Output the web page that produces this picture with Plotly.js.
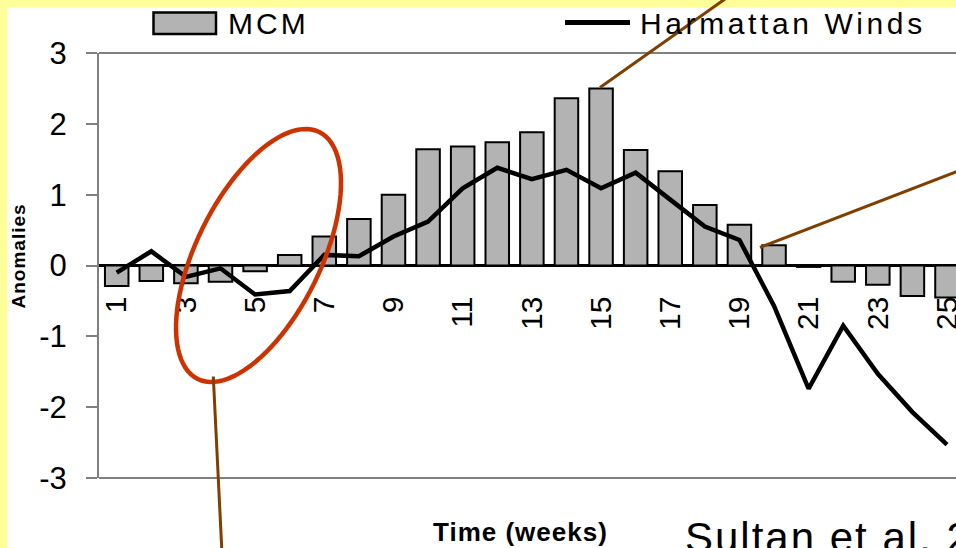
<!DOCTYPE html>
<html><head><meta charset="utf-8">
<script src="https://cdn.plot.ly/plotly-3.0.1.min.js"></script>
<style>
html,body{margin:0;padding:0;background:#fff;overflow:hidden}
#chart{width:956px;height:548px}
</style></head><body><div id="chart"></div><script>
const weeks = [1,2,3,4,5,6,7,8,9,10,11,12,13,14,15,16,17,18,19,20,21,22,23,24,25];
const mcm = [-0.29,-0.22,-0.25,-0.23,-0.08,0.15,0.41,0.655,1.0,1.64,1.68,1.74,1.88,2.36,2.50,1.63,1.33,0.855,0.575,0.285,-0.02,-0.23,-0.27,-0.43,-0.45];
const harmattan = [-0.10,0.20,-0.16,-0.04,-0.41,-0.36,0.15,0.13,0.41,0.62,1.09,1.38,1.22,1.35,1.09,1.31,0.93,0.55,0.36,-0.57,-1.74,-0.85,-1.53,-2.07,-2.53];
const xTickVals = [1,3,5,7,9,11,13,15,17,19,21,23,25];
const xTickText = ['1','3','5','7','9','11','13','15','17','19','21','23','25'];
const yTickVals = [3,2,1,0,-1,-2,-3];
const yTickText = ['3','2','1','0','-1','-2','-3'];
const seriesNames = ['MCM','Harmattan Winds'];
const yTitle = 'Anomalies';
const xTitle = 'Time (weeks)';
const sourceNote = 'Sultan et al. 2005';

const FONT = '"Liberation Sans", Arial, sans-serif';
const L = 99, R = 956, T = 53, B = 478;
const px = x => (x - L) / (R - L);
const py = y => (B - y) / (B - T);
const spaced = (s, ls) => '<span style="letter-spacing:' + ls + 'px">' + s + '</span>';

function ellipsePath(cx, cy, a, b, phiDeg) {
  const phi = phiDeg * Math.PI / 180;
  let d = '';
  for (let i = 0; i <= 96; i++) {
    const t = i / 96 * 2 * Math.PI;
    const x = cx + a * Math.cos(t) * Math.cos(phi) - b * Math.sin(t) * Math.sin(phi);
    const y = cy - (a * Math.cos(t) * Math.sin(phi) + b * Math.sin(t) * Math.cos(phi));
    d += (i ? 'L' : 'M') + px(x).toFixed(5) + ',' + py(y).toFixed(5);
  }
  return d + 'Z';
}

const traces = [
  {type:'bar', x:weeks, y:mcm, name:seriesNames[0], width:0.68,
   marker:{color:'#b3b3b3', line:{color:'#000', width:2}}, showlegend:false},
  {type:'scatter', mode:'lines', x:weeks, y:harmattan, name:seriesNames[1],
   line:{color:'#000', width:4.5}, showlegend:false, cliponaxis:false}
];

const brown = '#7f3f00';
const shapes = [
  {type:'rect', xref:'paper', yref:'paper', x0:px(0), x1:px(960), y0:py(7.3), y1:py(-2), fillcolor:'#ffff99', line:{width:0}},
  {type:'rect', xref:'paper', yref:'paper', x0:px(-2), x1:px(7.3), y0:py(552), y1:py(-2), fillcolor:'#ffff99', line:{width:0}},
  {type:'line', xref:'paper', yref:'paper', x0:0, x1:1.01, y0:1, y1:1, line:{color:'#808080', width:2}},
  {type:'line', xref:'paper', yref:'paper', x0:0, x1:1.01, y0:0, y1:0, line:{color:'#808080', width:2}},
  {type:'rect', xref:'paper', yref:'paper', x0:px(153.5), x1:px(216), y0:py(34), y1:py(12.5), fillcolor:'#b3b3b3', line:{color:'#000', width:2.5}},
  {type:'line', xref:'paper', yref:'paper', x0:px(565), x1:px(630), y0:py(22.5), y1:py(22.5), line:{color:'#000', width:5}},
  {type:'path', xref:'paper', yref:'paper', path:ellipsePath(258.5, 255.5, 137.6, 62.2, 63.8), line:{color:'#cc3300', width:4.5}},
  {type:'line', xref:'paper', yref:'paper', x0:px(600), y0:py(87.5), x1:px(725), y1:py(-1), line:{color:brown, width:3}},
  {type:'line', xref:'paper', yref:'paper', x0:px(760), y0:py(247.5), x1:px(958), y1:py(171), line:{color:brown, width:3}},
  {type:'line', xref:'paper', yref:'paper', x0:px(213.3), y0:py(376.5), x1:px(221.8), y1:py(550), line:{color:brown, width:3}}
];

const annotations = [
  {xref:'paper', yref:'paper', x:px(226), y:py(23), xanchor:'left', yanchor:'middle', showarrow:false,
   text:spaced(seriesNames[0], 3), font:{family:FONT, size:30, color:'#000'}},
  {xref:'paper', yref:'paper', x:px(638), y:py(23), xanchor:'left', yanchor:'middle', showarrow:false,
   text:spaced(seriesNames[1], 3.6), font:{family:FONT, size:30, color:'#000'}},
  {xref:'paper', yref:'paper', x:px(17.5), y:py(256), xanchor:'center', yanchor:'middle', showarrow:false, textangle:-90,
   text:'<b>' + spaced(yTitle, 1) + '</b>', font:{family:FONT, size:19, color:'#000'}},
  {xref:'paper', yref:'paper', x:px(431), y:py(532), xanchor:'left', yanchor:'middle', showarrow:false,
   text:'<b>' + spaced(xTitle, 1) + '</b>', font:{family:FONT, size:26, color:'#000'}},
  {xref:'paper', yref:'paper', x:px(683), y:py(512), xanchor:'left', yanchor:'top', showarrow:false,
   text:spaced(sourceNote, 2), font:{family:FONT, size:42, color:'#000'}}
];

const layout = {
  width:956, height:548,
  margin:{l:L, r:0, t:T, b:548 - B, pad:0},
  paper_bgcolor:'#fff', plot_bgcolor:'#fff',
  showlegend:false,
  font:{family:FONT, color:'#000'},
  xaxis:{range:[0.488, 25.26], anchor:'free', position:0.5, showline:false, showgrid:false, zeroline:false,
    tickmode:'array', tickvals:xTickVals, ticktext:xTickText, tickangle:-90, ticks:'', ticklabelstandoff:24,
    ticklabeloverflow:'allow',
    tickfont:{family:FONT, size:30, color:'#000'}, fixedrange:true},
  yaxis:{range:[-3, 3], showline:true, linecolor:'#808080', linewidth:2, ticks:'outside', ticklen:11, tickwidth:2,
    tickcolor:'#808080', showgrid:false, zeroline:true, zerolinecolor:'#000', zerolinewidth:3.5,
    tickmode:'array', tickvals:yTickVals, ticktext:yTickText, ticklabelstandoff:13,
    tickfont:{family:FONT, size:31, color:'#000'}, fixedrange:true},
  shapes:shapes, annotations:annotations
};

Plotly.newPlot('chart', traces, layout, {staticPlot:true, displayModeBar:false});
</script></body></html>
